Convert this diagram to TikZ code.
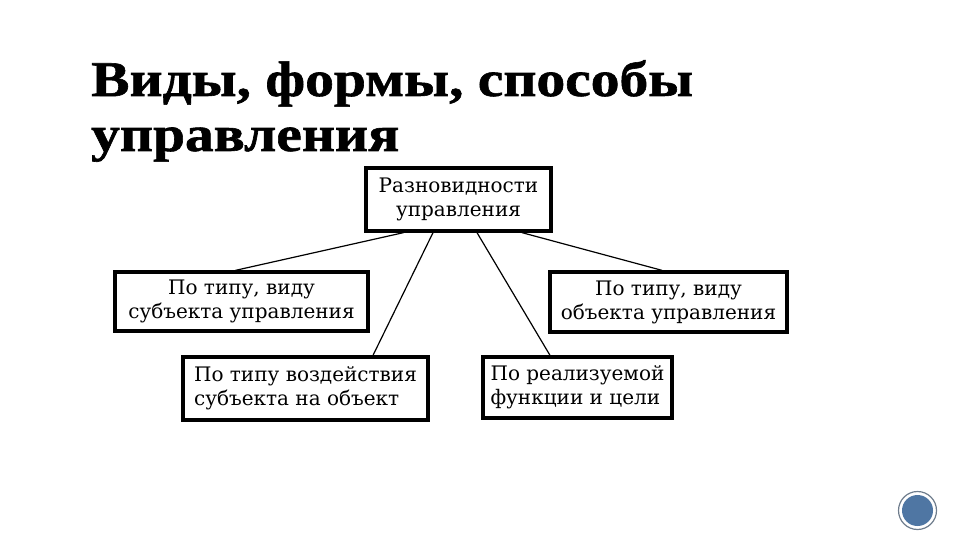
\documentclass[tikz,border=0pt]{standalone}
\usepackage{fontspec}
\setmainfont{DejaVu Serif}
\newfontfamily\titlefont{Liberation Serif Bold}[FakeStretch=1.15,FakeBold=1.2]
\usetikzlibrary{calc}
\definecolor{slideblue}{RGB}{79,118,163}
\definecolor{ringgray}{RGB}{110,124,140}

\begin{document}
\begin{tikzpicture}[x=1pt,y=-1pt,
  box/.style={draw, line width=3.3pt, inner sep=0pt, font=\fontsize{20}{24}\selectfont},
  link/.style={line width=1.2pt},
  headline/.style={anchor=base west, inner sep=0pt, font=\titlefont\fontsize{50}{55}\selectfont}]
  \useasboundingbox (0,0) rectangle (960,540);

  % 見出し
  \node[headline] (title1) at (91,96) {Виды, формы, способы};
  \node[headline] (title2) at (91,151) {управления};

  % ボックス
  \node[box, minimum width=185, minimum height=63, align=center] (kinds) at (458.5,199.5) {Разновидности\\управления};
  \node[box, minimum width=253, minimum height=59, align=center] (subj) at (241.5,301.5) {По типу, виду\\субъекта управления};
  \node[box, minimum width=237, minimum height=60, align=center] (obj) at (668.5,302) {По типу, виду\\объекта управления};
  \node[box, minimum width=245, minimum height=63, align=left] (infl) at (305.5,388.5) {По типу воздействия\\субъекта на объект};
  \node[box, minimum width=189, minimum height=61, align=left] (func) at (577.5,387.5) {По реализуемой\\функции и цели};

  % 線
  \draw[link] ($(kinds.south)+(-55,0)$) -- ($(subj.north)+(-6,0)$);
  \draw[link] ($(kinds.south)+(-25.5,0)$) -- ($(infl.north)+(67.5,0)$);
  \draw[link] ($(kinds.south)+(18.5,0)$) -- ($(func.north)+(-27.5,0)$);
  \draw[link] ($(kinds.south)+(63.5,0)$) -- ($(obj.north)+(-6.5,0)$);

  % ページ番号の丸
  \draw[ringgray, line width=1.2pt, fill=white] (917.5,510.5) circle (19);
  \fill[slideblue] (917.5,510.5) circle (15.5);
\end{tikzpicture}
\end{document}
